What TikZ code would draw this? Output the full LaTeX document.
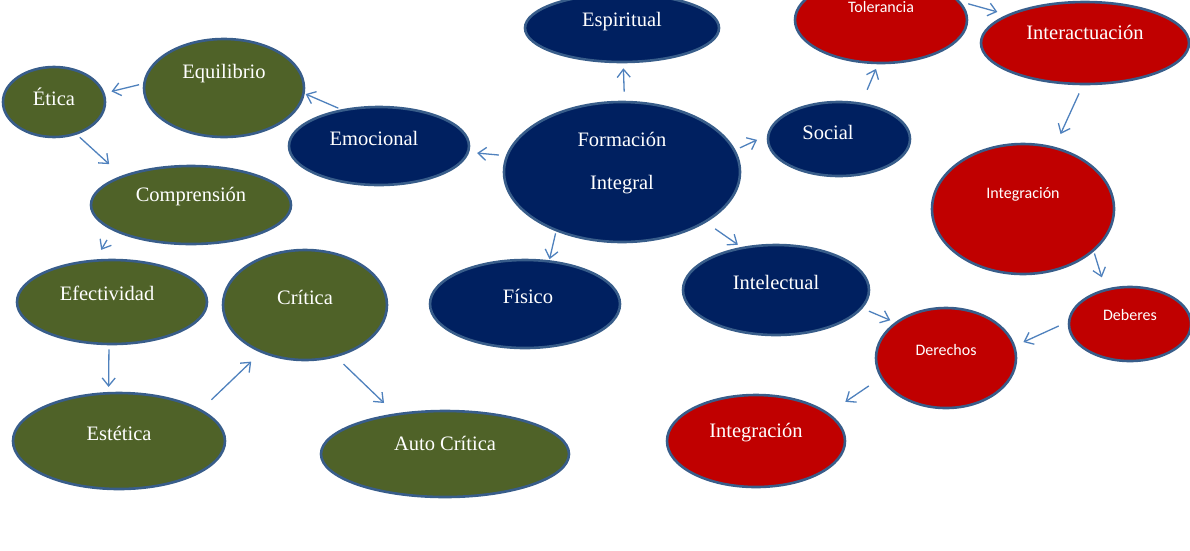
\documentclass[tikz,border=0pt]{standalone}
\usepackage{fontspec}
\setmainfont{Liberation Serif}
\newfontfamily\sinserif{Carlito}
\usetikzlibrary{shapes.geometric,arrows.meta}
\definecolor{azulosc}{HTML}{002060}
\definecolor{verdeol}{HTML}{4F6228}
\definecolor{rojoosc}{HTML}{C00000}
\definecolor{borde}{HTML}{385D8A}
\definecolor{flechacol}{HTML}{4F81BD}
\tikzset{
  burbuja/.style={ellipse, draw=borde, line width=2.6pt, inner sep=0pt},
  azul/.style={burbuja, fill=azulosc},
  verde/.style={burbuja, fill=verdeol},
  rojo/.style={burbuja, fill=rojoosc},
  etiqueta/.style={text=white, font=\fontsize{20.5}{24}\selectfont},
  etiquetasans/.style={text=white, font=\sinserif\fontsize{16}{19}\selectfont},
  flecha/.style={draw=flechacol, line width=1.3pt, -{Straight Barb[length=8pt,width=13pt]}}
}
\begin{document}
\begin{tikzpicture}[x=1pt,y=-1pt]
    \clip (0,0) rectangle (1190,550);
    % Centro
    \node[azul, minimum width=236, minimum height=140,
      label={[etiqueta,align=center,yshift=9]center:{Formación\\[19pt]Integral}}] (form) at (622,172) {};
    \node[azul, minimum width=194, minimum height=68, label={[etiqueta,yshift=6]center:Espiritual}] (esp) at (622,28) {};
    \node[azul, minimum width=180, minimum height=78, label={[etiqueta,xshift=-5,yshift=8]center:Emocional}] (emoc) at (379,146) {};
    \node[azul, minimum width=142, minimum height=74, label={[etiqueta,xshift=-11,yshift=7]center:Social}] (social) at (839,139) {};
    \node[azul, minimum width=190, minimum height=88, label={[etiqueta,xshift=3,yshift=8]center:Físico}] (fisico) at (525,304) {};
    \node[azul, minimum width=186, minimum height=90, label={[etiqueta,yshift=8]center:Intelectual}] (intel) at (776,290) {};
    % Rama emocional
    \node[verde, minimum width=160, minimum height=98, label={[etiqueta,yshift=14]center:Equilibrio}] (equil) at (224,88) {};
    \node[verde, minimum width=102, minimum height=70, label={[etiqueta,yshift=5]center:Ética}] (etica) at (54,102) {};
    \node[verde, minimum width=200, minimum height=78, label={[etiqueta,yshift=8]center:Comprensión}] (compr) at (191,205) {};
    \node[verde, minimum width=190, minimum height=84, label={[etiqueta,xshift=-5,yshift=9]center:Efectividad}] (efec) at (112,302) {};
    \node[verde, minimum width=164, minimum height=110, label={[etiqueta,yshift=8]center:Crítica}] (critica) at (305,305) {};
    \node[verde, minimum width=212, minimum height=96, label={[etiqueta,yshift=8]center:Estética}] (estet) at (119,441) {};
    \node[verde, minimum width=248, minimum height=86, label={[etiqueta,yshift=11]center:Auto Crítica}] (auto) at (445,454) {};
    % Rama social
    \node[rojo, minimum width=172, minimum height=86, label={[etiquetasans,yshift=13]center:Tolerancia}] (tol) at (881,20) {};
    \node[rojo, minimum width=208, minimum height=82, label={[etiqueta,yshift=11]center:Interactuación}] (inter) at (1085,43) {};
    \node[rojo, minimum width=182, minimum height=130, label={[etiquetasans,yshift=15]center:Integración}] (integ1) at (1023,209) {};
    \node[rojo, minimum width=122, minimum height=74, label={[etiquetasans,yshift=9]center:Deberes}] (deberes) at (1130,324) {};
    \node[rojo, minimum width=140, minimum height=100, label={[etiquetasans,yshift=8]center:Derechos}] (derechos) at (946,358) {};
    \node[rojo, minimum width=178, minimum height=92, label={[etiqueta,yshift=8]center:Integración}] (integ2) at (756,441) {};
    % Flechas
    \draw[flecha, shorten <=9pt, shorten >=5pt] (form.88) -- (esp.-88);
    \draw[flecha, shorten <=7pt, shorten >=8pt] (form.172) -- (emoc.-4);
    \draw[flecha, shorten <=5pt, shorten >=11pt] (form.11) -- (social.177);
    \draw[flecha, shorten <=2pt, shorten >=1pt] (form.222) -- (fisico.61);
    \draw[flecha, shorten <=11pt, shorten >=4pt] (form.-31) -- (intel.129);
    \draw[flecha, shorten <=3pt, shorten >=1pt] (emoc.136) -- (equil.-4);
    \draw[flecha, shorten <=4pt, shorten >=7pt] (equil.177) -- (etica.10);
    \draw[flecha, shorten <=4pt, shorten >=17pt] (etica.-55) -- (compr.157);
    \draw[flecha, shorten <=11pt, shorten >=11pt] (compr.198) -- (efec.111);
    \draw[flecha, shorten <=4pt, shorten >=5pt] (efec.-94) -- (estet.102);
    \draw[flecha, shorten <=14pt, shorten >=13pt] (estet.21) -- (critica.-133);
    \draw[flecha, shorten <=10pt, shorten >=15pt] (critica.-59) -- (auto.141);
    \draw[flecha, shorten <=14pt, shorten >=5pt] (social.58) -- (tol.-94);
    \draw[flecha, shorten <=8pt, shorten >=10pt] (tol.13) -- (inter.160);
    \draw[flecha, shorten <=9pt, shorten >=14pt] (inter.-93) -- (integ1.63);
    \draw[flecha, shorten <=2pt, shorten >=12pt] (integ1.-31) -- (deberes.125);
    \draw[flecha, shorten <=10pt, shorten >=9pt] (deberes.178) -- (derechos.10);
    \draw[flecha, shorten <=7pt, shorten >=5pt] (intel.-12) -- (derechos.145);
    \draw[flecha, shorten <=14pt, shorten >=20pt] (derechos.-163) -- (integ2.21);
\end{tikzpicture}
\end{document}
